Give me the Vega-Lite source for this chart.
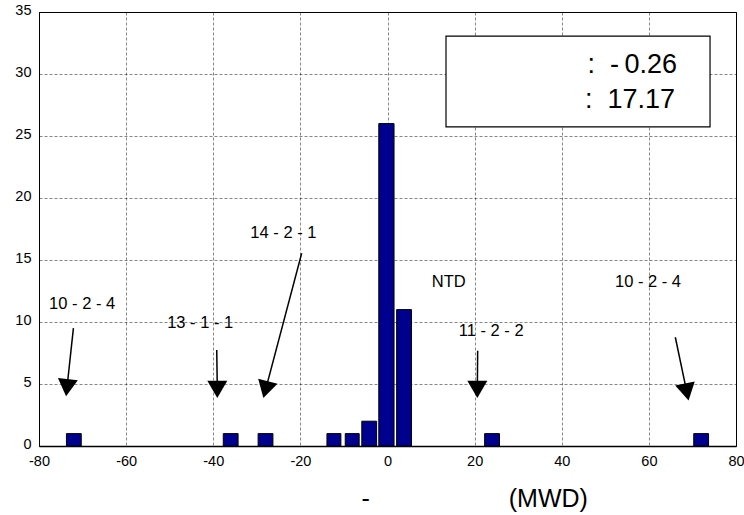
{
  "$schema": "https://vega.github.io/schema/vega-lite/v6.json",
  "autosize": {"type": "none"},
  "width": 697,
  "height": 434,
  "padding": {"left": 39, "top": 12, "right": 8, "bottom": 69},
  "background": "white",
  "config": {
    "font": "Liberation Sans",
    "view": {"stroke": "black", "strokeWidth": 1},
    "axis": {
      "domainColor": "black",
      "domainWidth": 1,
      "gridColor": "#000000",
      "gridDash": [3, 2],
      "gridWidth": 0.6,
      "gridOpacity": 0.8,
      "tickSize": 0,
      "labelColor": "black",
      "labelFont": "Liberation Sans",
      "labelFontSize": 14.5,
      "titleFont": "Liberation Sans",
      "titleColor": "black",
      "titleFontWeight": "normal"
    }
  },
  "datasets": {
    "bars": [
      {"x": -73.7, "x2": -70.3, "y": 1},
      {"x": -37.7, "x2": -34.3, "y": 1},
      {"x": -29.7, "x2": -26.3, "y": 1},
      {"x": -13.9, "x2": -10.7, "y": 1},
      {"x": -9.7, "x2": -6.5, "y": 1},
      {"x": -5.9, "x2": -2.5, "y": 2},
      {"x": -2.0, "x2": 1.5, "y": 26},
      {"x": 2.1, "x2": 5.5, "y": 11},
      {"x": 22.3, "x2": 25.7, "y": 1},
      {"x": 70.3, "x2": 73.7, "y": 1}
    ],
    "arrows": [
      {"x": -72.1, "y": 9.5, "x2": -73.58, "y2": 4.7},
      {"x": -39.2, "y": 7.74, "x2": -39.07, "y2": 4.57},
      {"x": -19.7, "y": 15.54, "x2": -27.98, "y2": 4.55},
      {"x": 20.7, "y": 7.69, "x2": 20.62, "y2": 4.57},
      {"x": 66.07, "y": 8.77, "x2": 68.7, "y2": 4.36}
    ],
    "heads": [
      {"x": -73.58, "y": 4.7, "angle": 6},
      {"x": -39.07, "y": 4.57, "angle": 0},
      {"x": -27.98, "y": 4.55, "angle": 15},
      {"x": 20.62, "y": 4.57, "angle": 0},
      {"x": 68.7, "y": 4.36, "angle": 348}
    ],
    "labels": [
      {"x": -70.1, "y": 11.45, "label": "10 - 2 - 4"},
      {"x": -43.0, "y": 9.9, "label": "13 - 1 - 1"},
      {"x": -23.9, "y": 17.2, "label": "14 - 2 - 1"},
      {"x": 14.05, "y": 13.2, "label": "NTD"},
      {"x": 23.8, "y": 9.3, "label": "11 - 2 - 2"},
      {"x": 59.8, "y": 13.2, "label": "10 - 2 - 4"}
    ],
    "box": [
      {"x": 13.43, "x2": 74.04, "y": 33.06, "y2": 25.73}
    ],
    "stats": [
      {"x": 66.47, "y": 30.73, "label": ":\u00a0\u00a0-\u20090.26"},
      {"x": 66.0, "y": 27.9, "label": ":\u00a0\u00a017.17"}
    ]
  },
  "layer": [
    {
      "data": {"name": "bars"},
      "mark": {"type": "bar", "fill": "#00008F", "stroke": "black", "strokeWidth": 1},
      "encoding": {
        "x": {
          "field": "x", "type": "quantitative",
          "scale": {"domain": [-80, 80], "nice": false, "zero": false},
          "axis": {
            "values": [-80, -60, -40, -20, 0, 20, 40, 60, 80],
            "labelExpr": "'' + datum.value",
            "labelPadding": 8,
            "labelFlush": false,
            "domainWidth": 1.5,
            "title": "-\u00a0\u00a0\u00a0\u00a0\u00a0\u00a0\u00a0\u00a0\u00a0\u00a0\u00a0\u00a0\u00a0\u00a0\u00a0\u00a0\u00a0\u00a0\u00a0\u00a0(MWD)",
            "titleFontSize": 25,
            "titleAnchor": "start",
            "titleAlign": "left",
            "titleBaseline": "middle",
            "titleX": 322,
            "titleY": 52
          }
        },
        "x2": {"field": "x2"},
        "y": {
          "field": "y", "type": "quantitative",
          "scale": {"domain": [0, 35], "nice": false},
          "axis": {
            "values": [0, 5, 10, 15, 20, 25, 30, 35],
            "labelExpr": "'' + datum.value",
            "labelPadding": 8,
            "labelOffset": -1.5,
            "labelFlush": false,
            "title": null
          }
        },
        "y2": {"datum": 0}
      }
    },
    {
      "data": {"name": "arrows"},
      "mark": {"type": "rule", "color": "black", "strokeWidth": 1.5},
      "encoding": {
        "x": {"field": "x", "type": "quantitative"},
        "y": {"field": "y", "type": "quantitative"},
        "x2": {"field": "x2"},
        "y2": {"field": "y2"}
      }
    },
    {
      "data": {"name": "heads"},
      "mark": {"type": "point", "shape": "triangle-down", "filled": true, "color": "black", "opacity": 1, "size": 400},
      "encoding": {
        "x": {"field": "x", "type": "quantitative"},
        "y": {"field": "y", "type": "quantitative"},
        "angle": {"field": "angle", "type": "quantitative", "scale": null}
      }
    },
    {
      "data": {"name": "labels"},
      "mark": {"type": "text", "font": "Liberation Sans", "fontSize": 16.5, "color": "black", "align": "center", "baseline": "middle"},
      "encoding": {
        "x": {"field": "x", "type": "quantitative"},
        "y": {"field": "y", "type": "quantitative"},
        "text": {"field": "label"}
      }
    },
    {
      "data": {"name": "box"},
      "mark": {"type": "rect", "fill": "white", "stroke": "black", "strokeWidth": 1.2},
      "encoding": {
        "x": {"field": "x", "type": "quantitative"},
        "x2": {"field": "x2"},
        "y": {"field": "y", "type": "quantitative"},
        "y2": {"field": "y2"}
      }
    },
    {
      "data": {"name": "stats"},
      "mark": {"type": "text", "font": "Liberation Sans", "fontSize": 27, "color": "black", "align": "right", "baseline": "middle"},
      "encoding": {
        "x": {"field": "x", "type": "quantitative"},
        "y": {"field": "y", "type": "quantitative"},
        "text": {"field": "label"}
      }
    }
  ]
}
